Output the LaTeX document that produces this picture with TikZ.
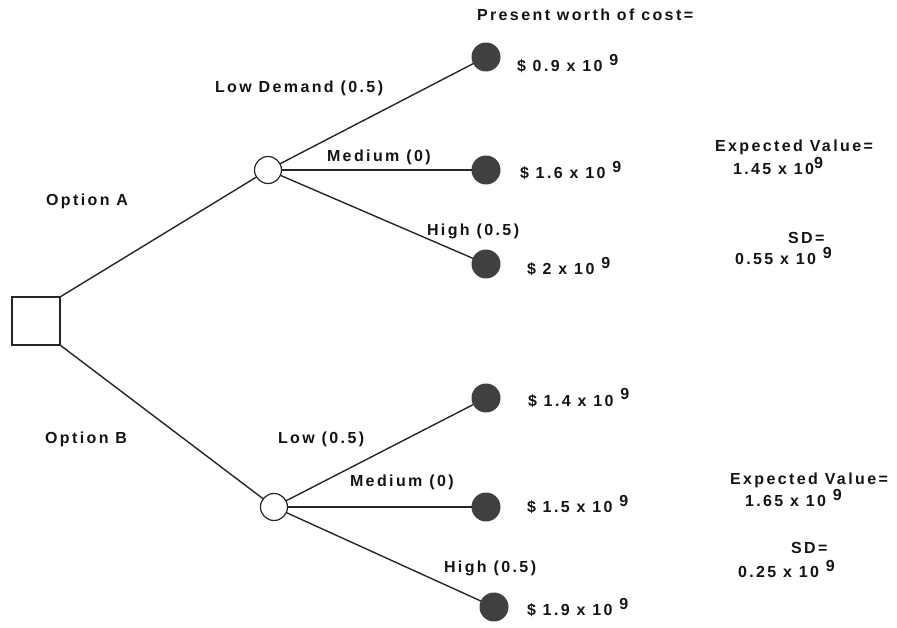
\documentclass[tikz,border=0pt]{standalone}
\usepackage{fontspec}
\setmainfont{Liberation Sans}[LetterSpace=15]
\newcommand\expnine{\raisebox{6pt}{9}}
\begin{document}
\begin{tikzpicture}[x=1pt,y=-1pt,
    every node/.style={inner sep=0pt, outer sep=0pt},
    branch/.style={line width=1.4pt, draw=black!85},
    decision/.style={draw=black!85, line width=1.2pt, minimum size=48pt, fill=white},
    chance/.style={circle, draw=black!85, line width=1.2pt, minimum size=27pt, fill=white},
    outcome/.style={circle, fill=black!75, minimum size=29pt},
    lbl/.style={anchor=base west, text=black!92, font=\fontsize{16}{19}\selectfont\bfseries}]
  \useasboundingbox (0,0) rectangle (897,628);

  % decision and chance nodes
  \node[decision] (d) at (36,321) {};
  \node[chance] (ca) at (268,170) {};
  \node[chance] (cb) at (274,507) {};

  % terminal outcomes
  \node[outcome] (a1) at (486,57) {};
  \node[outcome] (a2) at (486,170) {};
  \node[outcome] (a3) at (486,264) {};
  \node[outcome] (b1) at (486,398) {};
  \node[outcome] (b2) at (486,507) {};
  \node[outcome] (b3) at (494,607) {};

  % branches
  \draw[branch] (d.north east) -- (ca);
  \draw[branch] (d.south east) -- (cb);
  \draw[branch] (ca) -- (a1);
  \draw[branch] (ca) -- (a2);
  \draw[branch] (ca) -- (a3);
  \draw[branch] (cb) -- (b1);
  \draw[branch] (cb) -- (b2);
  \draw[branch] (cb) -- (b3);

  % branch labels
  \node[lbl] (oa) at (46,206) {Option A};
  \node[lbl] (ob) at (45,443) {Option B};
  \node[lbl] (la) at (215,93) {Low Demand (0.5)};
  \node[lbl] (ma) at (327,162) {Medium (0)};
  \node[lbl] (ha) at (427,236) {High (0.5)};
  \node[lbl] (lb) at (278,443) {Low (0.5)};
  \node[lbl] (mb) at (350,486) {Medium (0)};
  \node[lbl] (hb) at (444,572) {High (0.5)};

  % costs
  \node[lbl] (pw) at (477,21) {Present worth of cost=};
  \node[lbl] (va1) at (517,72) {\$ 0.9 x 10 \expnine};
  \node[lbl] (va2) at (520,179) {\$ 1.6 x 10 \expnine};
  \node[lbl] (va3) at (527,275) {\$ 2 x 10 \expnine};
  \node[lbl] (vb1) at (528,406) {\$ 1.4 x 10 \expnine};
  \node[lbl] (vb2) at (527,512) {\$ 1.5 x 10 \expnine};
  \node[lbl] (vb3) at (527,615) {\$ 1.9 x 10 \expnine};

  % summary statistics
  \node[lbl] (eva) at (715,152) {Expected Value=};
  \node[lbl] (eva2) at (733,175) {1.45 x 10\expnine};
  \node[lbl] (sda) at (788,244) {SD=};
  \node[lbl] (sda2) at (735,265) {0.55 x 10 \expnine};
  \node[lbl] (evb) at (730,484) {Expected Value=};
  \node[lbl] (evb2) at (745,506) {1.65 x 10 \expnine};
  \node[lbl] (sdb) at (791,553) {SD=};
  \node[lbl] (sdb2) at (738,577) {0.25 x 10 \expnine};
\end{tikzpicture}
\end{document}
